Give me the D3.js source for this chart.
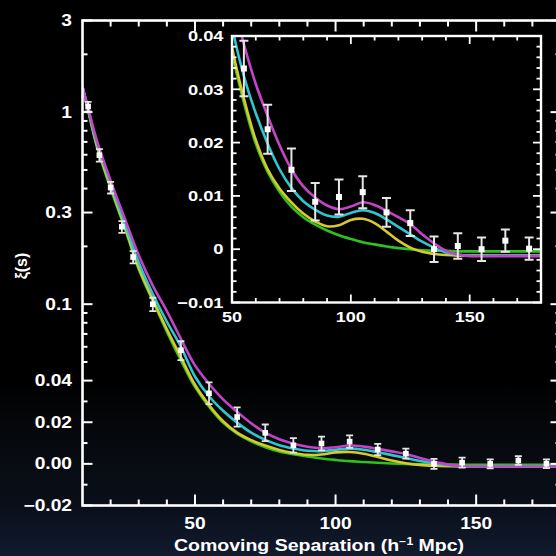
<!DOCTYPE html>
<html><head><meta charset="utf-8">
<script src="https://cdn.jsdelivr.net/npm/d3@7"></script>
<style>html,body{margin:0;padding:0;background:#000;}svg{display:block}</style>
</head><body>
<script>
// ---------- data ----------
const smallS   = [12, 16, 20, 24, 28, 35, 45];
const smallXi  = [1.07, 0.597, 0.405, 0.253, 0.176, 0.100, 0.0576];
const smallErr = [0.06, 0.045, 0.028, 0.018, 0.013, 0.008, 0.0065];

const largeS   = [55, 65, 75, 85, 95, 105, 115, 125, 135, 145, 155, 165, 175];
const largeXi  = [0.0339, 0.0225, 0.0149, 0.0089, 0.0098, 0.0107, 0.0069, 0.0049, 0.0000, 0.0006, 0.0000, 0.0016, 0.0001];
const largeErr = [0.0052, 0.0046, 0.0040, 0.0035, 0.0033, 0.0030, 0.0027, 0.0024, 0.0024, 0.0024, 0.0022, 0.0021, 0.0021];

const modelS    = [10, 12, 15, 20, 25, 30, 35, 40, 45, 50, 55, 60, 65, 70, 75, 80, 85, 90, 95, 100, 105, 110, 115, 120, 125, 130, 135, 140, 145, 150, 160, 170, 180];
const xiGreen   = [1.35, 1.02, 0.67, 0.40, 0.25, 0.152, 0.104, 0.072, 0.051, 0.037, 0.0275, 0.0198, 0.0145, 0.0108, 0.0080, 0.0060, 0.0046, 0.0035, 0.0026, 0.0019, 0.0013, 0.0009, 0.0005, 0.0002, 0.0000, -0.0002, -0.0003, -0.0003, -0.0004, -0.0004, -0.0004, -0.0004, -0.0004];
const xiYellow  = [1.35, 1.03, 0.68, 0.41, 0.255, 0.155, 0.106, 0.074, 0.053, 0.038, 0.0283, 0.0205, 0.0150, 0.0114, 0.0088, 0.0067, 0.0052, 0.0043, 0.0045, 0.0055, 0.0057, 0.0049, 0.0033, 0.0016, 0.0003, -0.0005, -0.0009, -0.0011, -0.0012, -0.0012, -0.0012, -0.0012, -0.0012];
const xiCyan    = [1.35, 1.04, 0.70, 0.425, 0.265, 0.165, 0.113, 0.081, 0.060, 0.042, 0.0325, 0.0255, 0.0198, 0.0150, 0.0115, 0.0090, 0.0074, 0.0063, 0.0061, 0.0068, 0.0073, 0.0068, 0.0056, 0.0042, 0.0028, 0.0014, 0.0003, -0.0006, -0.0010, -0.0012, -0.0012, -0.0012, -0.0012];
const xiMagenta = [1.35, 1.05, 0.72, 0.44, 0.28, 0.18, 0.125, 0.092, 0.066, 0.048, 0.0385, 0.031, 0.025, 0.0195, 0.0150, 0.0118, 0.0097, 0.0082, 0.0075, 0.0080, 0.0088, 0.0083, 0.0072, 0.0060, 0.0047, 0.0028, 0.0011, -0.0003, -0.0010, -0.0013, -0.0013, -0.0013, -0.0013];

const models = [
  {name: "green",   values: xiGreen,   color: "#2fc21c"},
  {name: "yellow",  values: xiYellow,  color: "#d8c92e"},
  {name: "cyan",    values: xiCyan,    color: "#2ec6cf"},
  {name: "magenta", values: xiMagenta, color: "#c444c6"}
];

const mainYMajor  = [3, 1, 0.3, 0.1, 0.04, 0.02, 0, -0.02];
const mainYLabels = ["3", "1", "0.3", "0.1", "0.04", "0.02", "0.00", "\u22120.02"];
const mainYMinor  = [2, 0.9, 0.8, 0.7, 0.6, 0.5, 0.4, 0.2, 0.09, 0.08, 0.07, 0.06, 0.05, 0.03, 0.01, -0.01];
const mainXMajor  = [50, 100, 150];
const mainXLabels = ["50", "100", "150"];
const mainXMinor  = [20, 30, 40, 60, 70, 80, 90, 110, 120, 130, 140, 160, 170];

const insetYMajor  = [-0.01, 0, 0.01, 0.02, 0.03, 0.04];
const insetYLabels = ["\u22120.01", "0", "0.01", "0.02", "0.03", "0.04"];
const insetYMinor  = [-0.008, -0.006, -0.004, -0.002, 0.002, 0.004, 0.006, 0.008, 0.012, 0.014, 0.016, 0.018, 0.022, 0.024, 0.026, 0.028, 0.032, 0.034, 0.036, 0.038];
const insetXMajor  = [50, 100, 150];
const insetXLabels = ["50", "100", "150"];
const insetXMinor  = [60, 70, 80, 90, 110, 120, 130, 140, 160, 170];

// ---------- setup ----------
const W = 556, H = 556;
const svg = d3.select("body").append("svg").attr("width", W).attr("height", H);
const defs = svg.append("defs");
const grad = defs.append("linearGradient").attr("id", "bg").attr("x1", 0).attr("y1", 0).attr("x2", 0).attr("y2", 1);
grad.append("stop").attr("offset", "0%").attr("stop-color", "#000");
grad.append("stop").attr("offset", "68%").attr("stop-color", "#000");
grad.append("stop").attr("offset", "76%").attr("stop-color", "#05070a");
grad.append("stop").attr("offset", "91%").attr("stop-color", "#0a0f1a");
grad.append("stop").attr("offset", "100%").attr("stop-color", "#111b2e");
svg.append("rect").attr("width", W).attr("height", H).attr("fill", "url(#bg)");

const FONT = "'Liberation Sans', Arial, Helvetica, sans-serif";
function label(g, x, y, txt, anchor, size, sx) {
  return g.append("text")
    .attr("transform", `translate(${x},${y}) scale(${sx},1)`)
    .attr("text-anchor", anchor).attr("dy", "0.35em")
    .attr("fill", "#fff").attr("font-family", FONT)
    .attr("font-weight", "bold").attr("font-size", size)
    .text(txt);
}

// ---------- main chart scales ----------
const M = {l: 82.5, r: 560.5, t: 20.5, b: 505.5};
const xMain = d3.scaleLinear().domain([10, 180]).range([M.l, M.r]);
const yLog = d3.scaleLog().domain([0.04, 3]).range([380.6, 20.5]);
const yLin = d3.scaleLinear().domain([-0.02, 0.04]).range([505.5, 380.6]);
const yMain = v => v >= 0.04 ? yLog(v) : yLin(v);

defs.append("clipPath").attr("id", "mainClip").append("rect")
  .attr("x", M.l).attr("y", M.t).attr("width", M.r - M.l).attr("height", M.b - M.t);

const gMain = svg.append("g");
const gCurves = gMain.append("g").attr("clip-path", "url(#mainClip)");
models.forEach(m => {
  const line = d3.line()
    .x((d, i) => xMain(modelS[i]))
    .y(d => yMain(d))
    .curve(d3.curveCatmullRom.alpha(0.5));
  gCurves.append("path").datum(m.values).attr("d", line)
    .attr("fill", "none").attr("stroke", m.color).attr("stroke-width", 2.6);
});

// error bars main
const allS = smallS.concat(largeS), allXi = smallXi.concat(largeXi), allErr = smallErr.concat(largeErr);
const gPts = gMain.append("g").attr("clip-path", "url(#mainClip)");
allS.forEach((s, i) => {
  const x = xMain(s), y1 = yMain(allXi[i] + allErr[i]), y2 = yMain(allXi[i] - allErr[i]), y = yMain(allXi[i]);
  const g = gPts.append("g").attr("stroke", "#e6e6e6").attr("stroke-width", 1.8);
  g.append("line").attr("x1", x).attr("x2", x).attr("y1", y1).attr("y2", y2);
  g.append("line").attr("x1", x - 3.5).attr("x2", x + 3.5).attr("y1", y1).attr("y2", y1);
  g.append("line").attr("x1", x - 3.5).attr("x2", x + 3.5).attr("y1", y2).attr("y2", y2);
  gPts.append("rect").attr("x", x - 2.8).attr("y", y - 2.8).attr("width", 5.6).attr("height", 5.6).attr("fill", "#fff");
});

// main frame & ticks
const gAx = svg.append("g").attr("stroke", "#fff");
gAx.append("rect").attr("x", M.l).attr("y", M.t).attr("width", M.r - M.l).attr("height", M.b - M.t)
  .attr("fill", "none").attr("stroke-width", 2.6);
function yTicks(vals, len) {
  vals.forEach(v => {
    const y = yMain(v);
    gAx.append("line").attr("x1", M.l).attr("x2", M.l + len).attr("y1", y).attr("y2", y).attr("stroke-width", 2);
    gAx.append("line").attr("x1", M.r).attr("x2", M.r - len).attr("y1", y).attr("y2", y).attr("stroke-width", 2);
  });
}
function xTicks(vals, len) {
  vals.forEach(v => {
    const x = xMain(v);
    gAx.append("line").attr("x1", x).attr("x2", x).attr("y1", M.b).attr("y2", M.b - len).attr("stroke-width", 2);
    gAx.append("line").attr("x1", x).attr("x2", x).attr("y1", M.t).attr("y2", M.t + len).attr("stroke-width", 2);
  });
}
yTicks(mainYMajor, 10); yTicks(mainYMinor, 5);
xTicks(mainXMajor, 11); xTicks(mainXMinor, 6);

const gLab = svg.append("g");
mainYMajor.forEach((v, i) => label(gLab, 72, yMain(v), mainYLabels[i], "end", 16, 1.2));
mainXMajor.forEach((v, i) => label(gLab, xMain(v), 523, mainXLabels[i], "middle", 16, 1.2));

// axis titles
const xt = gLab.append("text")
  .attr("transform", `translate(319,551) scale(1.22,1)`)
  .attr("text-anchor", "middle").attr("fill", "#fff").attr("font-family", FONT)
  .attr("font-weight", "bold").attr("font-size", 16);
xt.append("tspan").text("Comoving Separation (h");
xt.append("tspan").attr("font-size", 10).attr("dy", -6).text("\u22121");
xt.append("tspan").attr("dy", 6).text(" Mpc)");

gLab.append("text")
  .attr("transform", `translate(27,266) rotate(-90)`)
  .attr("text-anchor", "middle").attr("fill", "#fff").attr("font-family", FONT)
  .attr("font-weight", "bold").attr("font-size", 16).text("\u03BE(s)");

// ---------- inset ----------
const I = {l: 232, r: 541, t: 36, b: 302.5};
const xIn = d3.scaleLinear().domain([50, 180]).range([I.l, I.r]);
const yIn = d3.scaleLinear().domain([-0.01, 0.04]).range([I.b, I.t]);
defs.append("clipPath").attr("id", "inClip").append("rect")
  .attr("x", I.l).attr("y", I.t).attr("width", I.r - I.l).attr("height", I.b - I.t);

const gIn = svg.append("g");
gIn.append("rect").attr("x", I.l).attr("y", I.t).attr("width", I.r - I.l).attr("height", I.b - I.t).attr("fill", "#000");
const gInC = gIn.append("g").attr("clip-path", "url(#inClip)");
models.forEach(m => {
  const line = d3.line()
    .x((d, i) => xIn(modelS[i]))
    .y(d => yIn(d))
    .curve(d3.curveCatmullRom.alpha(0.5));
  gInC.append("path").datum(m.values).attr("d", line)
    .attr("fill", "none").attr("stroke", m.color).attr("stroke-width", 2.6);
});
largeS.forEach((s, i) => {
  const x = xIn(s), y1 = yIn(largeXi[i] + largeErr[i]), y2 = yIn(largeXi[i] - largeErr[i]), y = yIn(largeXi[i]);
  const g = gInC.append("g").attr("stroke", "#e6e6e6").attr("stroke-width", 2);
  g.append("line").attr("x1", x).attr("x2", x).attr("y1", y1).attr("y2", y2);
  g.append("line").attr("x1", x - 4.5).attr("x2", x + 4.5).attr("y1", y1).attr("y2", y1);
  g.append("line").attr("x1", x - 4.5).attr("x2", x + 4.5).attr("y1", y2).attr("y2", y2);
  gInC.append("rect").attr("x", x - 3).attr("y", y - 3).attr("width", 6).attr("height", 6).attr("fill", "#fff");
});
const gInAx = gIn.append("g").attr("stroke", "#fff");
gInAx.append("rect").attr("x", I.l).attr("y", I.t).attr("width", I.r - I.l).attr("height", I.b - I.t)
  .attr("fill", "none").attr("stroke-width", 2.4);
function inY(vals, len) {
  vals.forEach(v => {
    const y = yIn(v);
    gInAx.append("line").attr("x1", I.l).attr("x2", I.l + len).attr("y1", y).attr("y2", y).attr("stroke-width", 1.8);
    gInAx.append("line").attr("x1", I.r).attr("x2", I.r - len).attr("y1", y).attr("y2", y).attr("stroke-width", 1.8);
  });
}
function inX(vals, len) {
  vals.forEach(v => {
    const x = xIn(v);
    gInAx.append("line").attr("x1", x).attr("x2", x).attr("y1", I.b).attr("y2", I.b - len).attr("stroke-width", 1.8);
    gInAx.append("line").attr("x1", x).attr("x2", x).attr("y1", I.t).attr("y2", I.t + len).attr("stroke-width", 1.8);
  });
}
inY(insetYMajor, 8); inY(insetYMinor, 4.5);
inX(insetXMajor, 8); inX(insetXMinor, 4.5);
insetYMajor.forEach((v, i) => label(gIn, 223.5, yIn(v), insetYLabels[i], "end", 15, 1.22));
insetXMajor.forEach((v, i) => label(gIn, xIn(v), 317, insetXLabels[i], "middle", 15, 1.2));
</script>
</body></html>
